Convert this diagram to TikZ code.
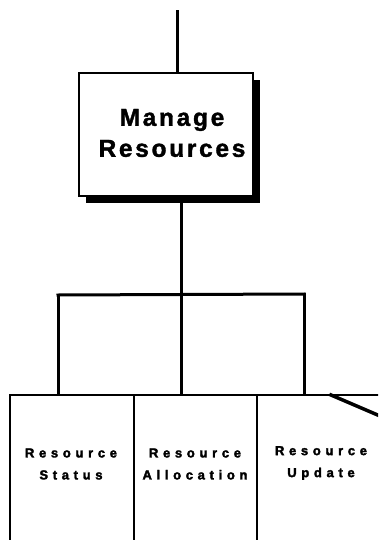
\documentclass[tikz,border=0pt]{standalone}
\usepackage{fontspec}
\setmainfont{Liberation Sans}
\newfontfamily\bigfont[LetterSpace=11,FakeBold=1.5]{Liberation Sans Bold}
\newfontfamily\smallfont[LetterSpace=36,FakeBold=2.5]{Liberation Sans Bold}
\usetikzlibrary{shadows}
\begin{document}
\begin{tikzpicture}[x=1pt,y=-1pt,
  mainbox/.style={draw=black, line width=2.2pt, fill=white, minimum width=174pt, minimum height=123pt, inner sep=0pt,
    drop shadow={shadow xshift=7pt, shadow yshift=-7pt, fill=black, opacity=1}},
  mainlabel/.style={font=\bigfont\fontsize{24.5}{31}\selectfont, align=center, inner sep=0pt},
  subbox/.style={draw=black, line width=1.6pt, minimum height=165pt, inner sep=0pt},
  sublabel/.style={font=\smallfont\fontsize{13}{22}\selectfont, align=center, inner sep=0pt},
  conn/.style={line width=3pt, line cap=rect}]
\useasboundingbox (0,0) rectangle (378,540);
\clip (0,0) rectangle (378,540);

% main box
\node[mainbox] (manage) at (166,134.5) {};
\node[mainlabel] (manageLabel) at (172,133) {Manage\\Resources};

% bottom row boxes
\node[subbox, minimum width=124pt] (status) at (72,477.5) {};
\node[subbox, minimum width=123pt] (alloc) at (195.5,477.5) {};
\node[subbox, minimum width=143pt] (update) at (328.5,477.5) {};
\node[sublabel] (statusLabel) at (71,464) {Resource\\Status};
\node[sublabel] (allocLabel) at (195,464) {Resource\\Allocation};
\node[sublabel] (updateLabel) at (321,463) {Resource\\Update};

% connectors
\coordinate (top) at (177,12);
\coordinate (bar) at (181,295);
\coordinate (barL) at (58,295);
\coordinate (barR) at (304,294);
\draw[conn] (top) -- (top |- manage.north);
\draw[conn] (manage.south -| bar) -- (bar);
\draw[conn] (barL) -- (barR);
\draw[conn] (barL) -- (barL |- status.north);
\draw[conn] (bar) -- (bar |- alloc.north);
\draw[conn] (barR) -- (barR |- update.north);

% diagonal
\coordinate (diagStart) at (331,395);
\coordinate (diagEnd) at (380,416);
\draw[conn, line width=3.5pt] (diagStart) -- (diagEnd);
\end{tikzpicture}
\end{document}
